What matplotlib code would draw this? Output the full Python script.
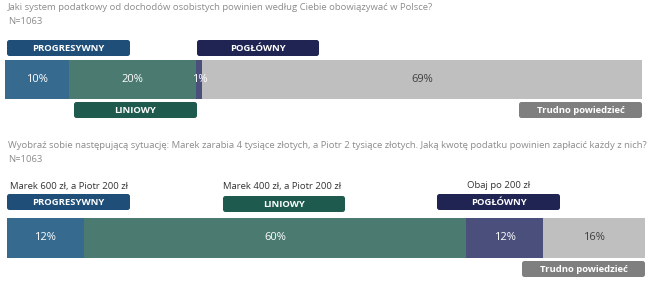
import matplotlib.pyplot as plt
from matplotlib.patches import FancyBboxPatch

plt.rcParams['font.family'] = ['Open Sans', 'DejaVu Sans']

# data
q1_title = "Jaki system podatkowy od dochodów osobistych powinien według Ciebie obowiązywać w Polsce?"
q2_title = ("Wyobraź sobie następującą sytuację: Marek zarabia 4 tysiące złotych, a Piotr 2 tysiące złotych. "
            "Jaką kwotę podatku powinien zapłacić każdy z nich?")
n_label = "N=1063"
categories = ["PROGRESYWNY", "LINIOWY", "POGŁÓWNY", "Trudno powiedzieć"]
q1_values = [10, 20, 1, 69]
q2_values = [12, 60, 12, 16]
q2_notes = ["Marek 600 zł, a Piotr 200 zł", "Marek 400 zł, a Piotr 200 zł", "Obaj po 200 zł"]

seg_colors = ["#376a8f", "#4a7a70", "#4b4f7b", "#bfbfbf"]
box_colors = ["#1f4e79", "#1e5a4e", "#1f2452", "#7f7f7f"]
txt_colors = ["white", "white", "white", "#404040"]

W, H = 655, 286
fs = 6.8
fig = plt.figure(figsize=(W / 100, H / 100), dpi=100)


def rect(x0, y0, x1, y1):
    # pixel box -> figure fraction
    return [x0 / W, 1 - y1 / H, (x1 - x0) / W, (y1 - y0) / H]


def stacked(ax, values):
    left = 0
    for v, c, tc in zip(values, seg_colors, txt_colors):
        ax.barh([0], [v], left=left, height=1, color=c, edgecolor='none')
        ax.text(left + v / 2, 0, f"{v}%", ha='center', va='center', color=tc, fontsize=8)
        left += v
    ax.set_xlim(0, sum(values))
    ax.set_ylim(-0.5, 0.5)
    ax.axis('off')


ax1 = fig.add_axes(rect(5, 60, 642, 99))
stacked(ax1, q1_values)
ax2 = fig.add_axes(rect(7, 218, 645, 258))
stacked(ax2, q2_values)

# overlay in pixel units for titles and label boxes
ov = fig.add_axes([0, 0, 1, 1])
ov.set_xlim(0, W)
ov.set_ylim(H, 0)
ov.axis('off')
ov.patch.set_alpha(0)

grey = "#8c8c8c"
ov.text(8, 7, q1_title, fontsize=fs, color=grey, va='center')
ov.text(8, 21, n_label, fontsize=fs, color=grey, va='center')
ov.text(8, 146, q2_title, fontsize=fs, color=grey, va='center')
ov.text(8, 160, n_label, fontsize=fs, color=grey, va='center')


def label_box(x0, y0, x1, y1, text, color):
    ov.add_patch(FancyBboxPatch((x0, y0), x1 - x0, y1 - y0,
                                boxstyle="round,pad=0,rounding_size=2.5",
                                facecolor=color, edgecolor='none'))
    ov.text((x0 + x1) / 2, (y0 + y1) / 2 + 0.5, text, ha='center', va='center',
            color='white', fontsize=fs, fontweight='bold')


# top chart labels
label_box(7, 40, 130, 56, categories[0], box_colors[0])
label_box(74, 102, 197, 118, categories[1], box_colors[1])
label_box(197, 40, 319, 56, categories[2], box_colors[2])
label_box(519, 102, 642, 118, categories[3], box_colors[3])

# bottom chart labels
label_box(7, 194, 130, 210, categories[0], box_colors[0])
label_box(223, 196, 345, 212, categories[1], box_colors[1])
label_box(437, 194, 560, 210, categories[2], box_colors[2])
label_box(522, 261, 645, 277, categories[3], box_colors[3])

ov.text(10, 187, q2_notes[0], fontsize=fs, color="#333333", va='center')
ov.text(223, 187, q2_notes[1], fontsize=fs, color="#333333", va='center')
ov.text(467, 186, q2_notes[2], fontsize=fs, color="#333333", va='center')

fig.savefig("out.png", dpi=100)
